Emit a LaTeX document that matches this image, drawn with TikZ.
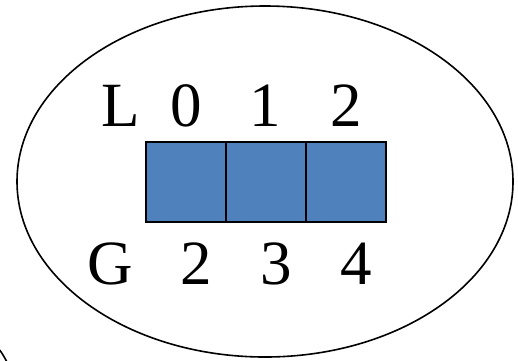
\documentclass[tikz,border=0pt]{standalone}
\usepackage{fontspec}
\setmainfont{Liberation Serif}
\definecolor{cellblue}{HTML}{4F81BD}
\tikzset{
  cell/.style={draw=black, line width=2pt, fill=cellblue, minimum width=80pt, minimum height=80pt, inner sep=0pt, outer sep=0pt},
  lab/.style={anchor=base, inner sep=0pt, font=\fontsize{63}{63}\selectfont},
  outline/.style={draw=black, line width=1.6pt}
}
\begin{document}
\begin{tikzpicture}[x=1pt,y=-1pt]
\useasboundingbox (0,0) rectangle (518,360);
\clip (0,0) rectangle (518,360);
% outer ellipse
\draw[outline] (265,181.5) ellipse [x radius=248, y radius=175.5];
% edge of a neighbouring shape in the lower left corner
\draw[outline] (-2,348) .. controls (2,353) .. (7,362);
% three cells
\node[cell] (c0) at (186,181.5) {};
\node[cell] (c1) at (266,181.5) {};
\node[cell] (c2) at (346,181.5) {};
% top row labels
\node[lab] (l) at (121,126) {L};
\node[lab] (l0) at (186,126) {0};
\node[lab] (l1) at (265,126) {1};
\node[lab] (l2) at (346,126) {2};
% bottom row labels
\node[lab] (g) at (110,284) {G};
\node[lab] (g2) at (196,284) {2};
\node[lab] (g3) at (276,284) {3};
\node[lab] (g4) at (356,284) {4};
\end{tikzpicture}
\end{document}
